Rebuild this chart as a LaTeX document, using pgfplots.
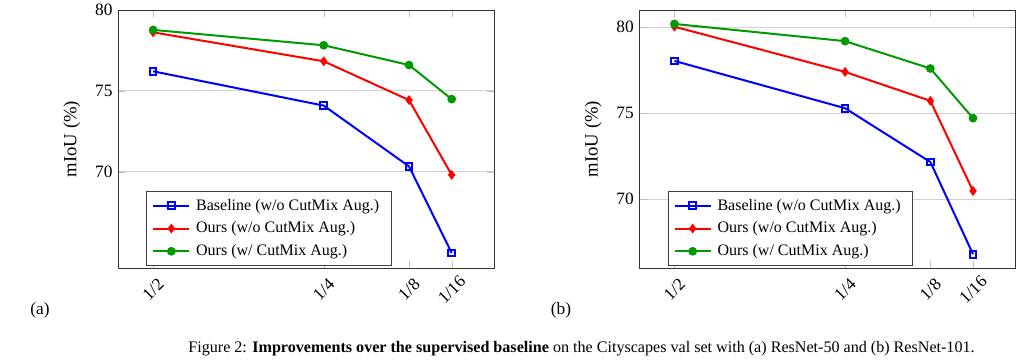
\documentclass[border=0pt]{standalone}
\usepackage{fontspec}
\setmainfont{Liberation Serif}
\usepackage{pgfplots}
\pgfplotsset{compat=1.18}
\newcommand\fs{\fontsize{10.4}{12.5}\selectfont}
\newcommand\fl{\fontsize{9.6}{11.5}\selectfont}
\pgfplotsset{mystyle/.style={
  scale only axis, width=225.6pt, height=154.8pt,
  x dir=reverse, xmin=0, xmax=0.551,
  xtick={0.5,0.25,0.125,0.0625}, xticklabels={1/2,1/4,1/8,1/16},
  xticklabel style={yshift=-13.0pt, rotate=45, anchor=center},
  ytick={70,75,80},
  ymajorgrids, grid style={gray!35, line width=0.5pt},
  tick style={gray!50}, tick align=inside,
  axis line style={black!80},
  ylabel={mIoU (\%)},
  ylabel style={font=\fontsize{11.2}{13}\selectfont},
  ylabel shift=2pt,
  /pgf/number format/assume math mode=true,
  font=\fs,
  legend style={at={(0.074,0.008)}, anchor=south west, draw=black!75, font=\fl, cells={anchor=west}, inner ysep=2.5pt, inner xsep=3.5pt, row sep=1.5pt,
    nodes={inner xsep=3.5pt}},
  legend image code/.code={\draw[mark repeat=2,mark phase=2] plot coordinates {(0cm,0cm)(0.38cm,0cm)(0.76cm,0cm)};},
  every axis plot/.append style={very thick},
}}
\begin{document}
\begin{tikzpicture}
\useasboundingbox (0,0) rectangle (614.4pt,-217.8pt);
\begin{axis}[mystyle, at={(71.0pt,-160.8pt)}, anchor=south west, ymin=64.05, ymax=80]
\addplot[blue, mark=square, mark size=2pt] coordinates {(0.5,76.21) (0.25,74.09) (0.125,70.33) (0.0625,64.98)};
\addplot[red, mark=diamond*, mark size=2pt] coordinates {(0.5,78.62) (0.25,76.83) (0.125,74.43) (0.0625,69.81)};
\addplot[green!60!black, mark=*, mark size=2pt] coordinates {(0.5,78.77) (0.25,77.82) (0.125,76.60) (0.0625,74.49)};
\legend{Baseline (w/o CutMix Aug.), Ours (w/o CutMix Aug.), Ours (w/ CutMix Aug.)}
\end{axis}
\begin{axis}[mystyle, at={(383.8pt,-160.8pt)}, anchor=south west, ymin=66, ymax=81]
\addplot[blue, mark=square, mark size=2pt] coordinates {(0.5,78.04) (0.25,75.29) (0.125,72.16) (0.0625,66.80)};
\addplot[red, mark=diamond*, mark size=2pt] coordinates {(0.5,80.03) (0.25,77.40) (0.125,75.72) (0.0625,70.48)};
\addplot[green!60!black, mark=*, mark size=2pt] coordinates {(0.5,80.19) (0.25,79.19) (0.125,77.60) (0.0625,74.71)};
\legend{Baseline (w/o CutMix Aug.), Ours (w/o CutMix Aug.), Ours (w/ CutMix Aug.)}
\end{axis}
\node[font=\fs] at (24pt,-186pt) {(a)};
\node[font=\fs] at (336.6pt,-186pt) {(b)};
\node[font=\fontsize{9.66}{11.5}\selectfont] at (348.9pt,-209.4pt) {Figure 2: \textbf{Improvements over the supervised baseline} on the Cityscapes val set with (a) ResNet-50 and (b) ResNet-101.};
\end{tikzpicture}
\end{document}
